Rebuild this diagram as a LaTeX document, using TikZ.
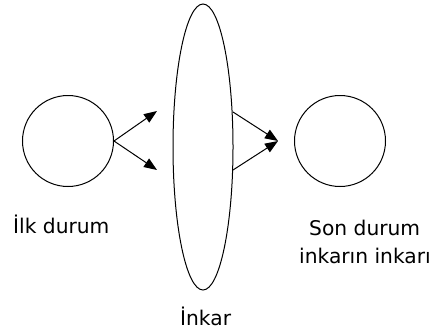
\documentclass[tikz,border=0pt]{standalone}
\usepackage{fontspec}
\setmainfont{DejaVu Sans}
\usetikzlibrary{shapes.geometric,arrows.meta}
\begin{document}
\begin{tikzpicture}[x=1bp,y=1bp,
  shapeline/.style={draw=black,line width=1bp},
  state/.style={shapeline,circle,minimum size=91bp,inner sep=0pt},
  negbox/.style={shapeline,ellipse,minimum width=60bp,minimum height=286bp,inner sep=0pt},
  flow/.style={line width=1bp,-{Triangle[length=13bp,width=10bp]}},
  lbl/.style={inner sep=0pt,anchor=base west,font=\fontsize{20.3}{24}\selectfont}]
\useasboundingbox (0,0) rectangle (435,331);
\node[state] (c1) at (68,190) {};
\node[negbox] (e) at (203,184) {};
\node[state] (c2) at (340,190) {};
\coordinate (a1) at (157,220);
\coordinate (a2) at (157,161);
\coordinate (s1) at (233,219);
\coordinate (s2) at (233,161);
\coordinate (t) at (278,190);
\draw[flow] (c1.east) -- (a1);
\draw[flow] (c1.east) -- (a2);
\draw[flow] (s1) -- (t);
\draw[flow] (s2) -- (t);
\node[lbl] (l1) at (13,98) {İlk durum};
\node[lbl] (l2) at (309,96) {Son durum};
\node[lbl] (l3) at (299,68) {inkarın inkarı};
\node[lbl] (l4) at (180,6) {İnkar};
\end{tikzpicture}
\end{document}
